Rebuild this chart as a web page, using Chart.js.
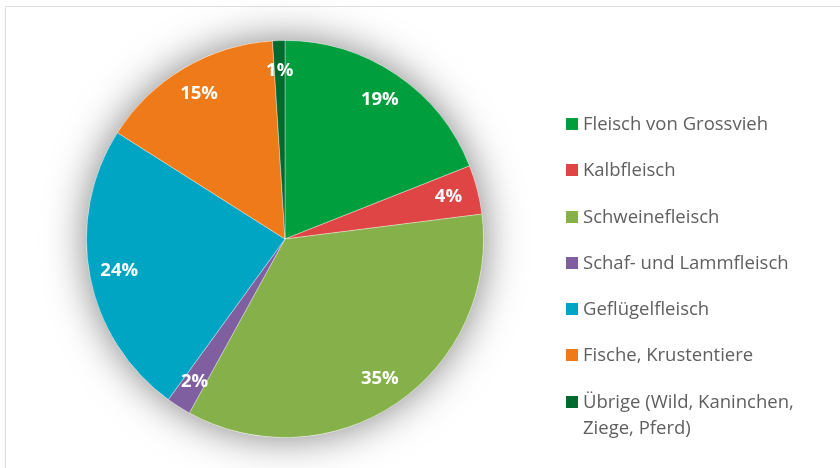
<!DOCTYPE html>
<html lang="de">
<head>
    <meta charset="UTF-8">
    <title>Fleischkonsum nach Art</title>
    <script src="https://cdn.jsdelivr.net/npm/chart.js"></script>
    <style>
        html, body { margin: 0; padding: 0; background: #fff; }
        .wrap { position: relative; width: 840px; height: 468px; overflow: hidden; }
        .frame { position: absolute; left: 5px; top: 6px; width: 900px; height: 500px; border: 1px solid #dedede; }
        canvas { position: absolute; left: 0; top: 0; }
        .legend { position: absolute; left: 566px; top: 110px; font-family: "Open Sans", sans-serif; font-size: 18.5px; color: #5f5f5f; }
        .legend .item { position: relative; padding-left: 17px; line-height: 26px; margin-bottom: 20.3px; }
        .legend .box { position: absolute; left: 0; top: 8px; width: 12px; height: 12px; }
    </style>
</head>
<body>

<div class="wrap">
    <div class="frame"></div>
    <canvas id="pie" width="840" height="468"></canvas>
    <div class="legend" id="legend"></div>
</div>

<script>
    let categories = ['Fleisch von Grossvieh', 'Kalbfleisch', 'Schweinefleisch', 'Schaf- und Lammfleisch',
                      'Geflügelfleisch', 'Fische, Krustentiere', 'Übrige (Wild, Kaninchen,\nZiege, Pferd)'];
    let shares = [19, 4, 35, 2, 24, 15, 1];
    let colors = ['#009e3d', '#e04545', '#86b04a', '#7f5fa0', '#00a5c3', '#ef7a1a', '#006a2e'];

    // soft grey glow behind the pie
    const glow = {
        id: 'glow',
        beforeDatasetsDraw(chart) {
            let arc = chart.getDatasetMeta(0).data[0];
            let ctx = chart.ctx;
            ctx.save();
            ctx.shadowColor = 'rgba(0,0,0,0.5)';
            ctx.shadowBlur = 40;
            ctx.fillStyle = '#fff';
            ctx.beginPath();
            ctx.arc(arc.x, arc.y, arc.outerRadius, 0, Math.PI * 2);
            ctx.fill();
            ctx.restore();
        }
    };

    // percentage labels inside the slices
    const pctLabels = {
        id: 'pctLabels',
        afterDatasetsDraw(chart) {
            let ctx = chart.ctx;
            ctx.save();
            ctx.fillStyle = '#fff';
            ctx.font = 'bold 18.5px "Open Sans", sans-serif';
            ctx.textAlign = 'center';
            ctx.textBaseline = 'middle';
            chart.getDatasetMeta(0).data.forEach((arc, i) => {
                let mid = (arc.startAngle + arc.endAngle) / 2;
                let r = arc.outerRadius * 0.85;
                ctx.fillText(shares[i] + '%', arc.x + Math.cos(mid) * r, arc.y + Math.sin(mid) * r);
            });
            ctx.restore();
        }
    };

    let ctx = document.getElementById('pie').getContext('2d');
    let pieChart = new Chart(ctx, {
        type: 'pie',
        data: {
            labels: categories,
            datasets: [{
                data: shares,
                backgroundColor: colors,
                borderColor: 'rgba(255,255,255,0.35)',
                borderWidth: 1
            }]
        },
        options: {
            responsive: false,
            animation: false,
            layout: { padding: { top: 40, bottom: 30, left: 85, right: 355 } },
            plugins: {
                legend: { display: false },
                tooltip: { enabled: false }
            }
        },
        plugins: [glow, pctLabels]
    });

    // legend on the right
    let legend = document.getElementById('legend');
    categories.forEach((name, i) => {
        let item = document.createElement('div');
        item.className = 'item';
        let box = document.createElement('span');
        box.className = 'box';
        box.style.background = colors[i];
        item.appendChild(box);
        name.split('\n').forEach((line, j) => {
            if (j > 0) item.appendChild(document.createElement('br'));
            item.appendChild(document.createTextNode(line));
        });
        legend.appendChild(item);
    });
</script>

</body>
</html>
